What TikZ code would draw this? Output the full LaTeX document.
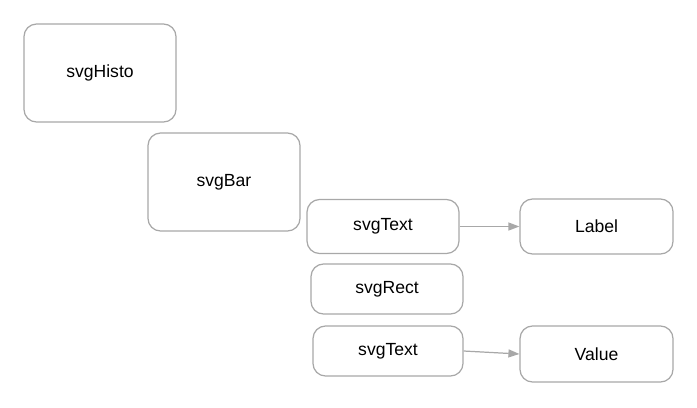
\documentclass[tikz,border=0pt]{standalone}
\usepackage{fontspec}
\setmainfont{Liberation Sans}
\usetikzlibrary{arrows.meta}
\definecolor{edgegray}{RGB}{168,168,168}
\begin{document}
\begin{tikzpicture}[x=0.02cm, y=-0.02cm,
	box/.style={draw=edgegray, line width=0.7pt, rounded corners=0.25cm,
		font=\fontsize{10}{12}\selectfont, align=center, inner sep=0pt},
	link/.style={draw=edgegray, line width=0.7pt,
		-{Triangle[length=2.2mm,width=1.6mm]}}]
	\useasboundingbox (0,0) rectangle (697,407);

	% Tree of svg elements
	\node[box, minimum width=3.04cm, minimum height=1.96cm] (histo) at (100,73) {svgHisto};
	\node[box, minimum width=3.04cm, minimum height=1.96cm] (bar) at (224,182) {svgBar};

	% Children of the bar
	\node[box, minimum width=3.04cm, minimum height=1.08cm] (text1) at (383,226.5) {svgText};
	\node[box, minimum width=3.04cm, minimum height=1.0cm] (rect) at (387,289) {svgRect};
	\node[box, minimum width=3.0cm, minimum height=1.0cm] (text2) at (388,351) {svgText};

	% Contents of the texts
	\node[box, minimum width=3.06cm, minimum height=1.1cm] (label) at (596.5,226.5) {Label};
	\node[box, minimum width=3.06cm, minimum height=1.12cm] (value) at (596.5,354) {Value};

	\draw[link] (text1.east) -- (label.west);
	\draw[link] (text2.east) -- (value.west);
\end{tikzpicture}
\end{document}
